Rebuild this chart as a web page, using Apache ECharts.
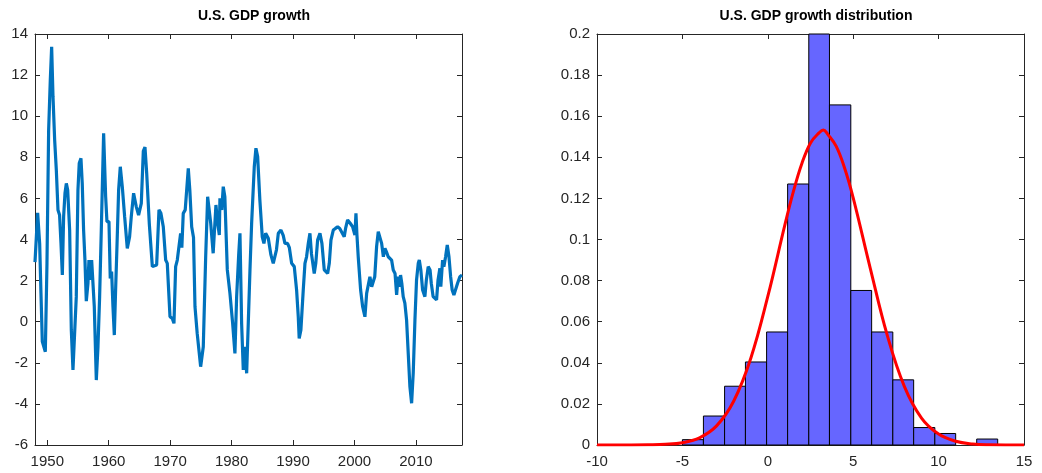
<!DOCTYPE html>
<html>
<head>
<meta charset="utf-8">
<script src="https://cdn.jsdelivr.net/npm/echarts@6/dist/echarts.min.js"></script>
<style>
  html, body { margin: 0; padding: 0; background: #fff; }
  #main { width: 1042px; height: 473px; }
</style>
</head>
<body>
<div id="main"></div>
<script>
// GDP growth series (year, % yoy)
let years = [
  1948.0, 1948.43, 1948.76, 1948.97, 1949.19, 1949.46, 1949.68, 1949.95,
  1950.22, 1950.49, 1950.71, 1950.93, 1951.2, 1951.47, 1951.74, 1952.0,
  1952.23, 1952.45, 1952.66, 1952.88, 1953.1, 1953.32, 1953.64, 1953.91,
  1954.18, 1954.45, 1954.72, 1954.99, 1955.2, 1955.48, 1955.69, 1955.91,
  1956.13, 1956.35, 1956.62, 1956.78, 1957.0, 1957.22, 1957.43, 1957.65,
  1957.98, 1958.25, 1958.52, 1958.79, 1959.17, 1959.5, 1959.71, 1960.04,
  1960.25, 1960.47, 1960.69, 1960.91, 1961.12, 1961.34, 1961.61, 1961.88,
  1962.21, 1962.59, 1963.02, 1963.4, 1963.67, 1964.05, 1964.48, 1964.86,
  1965.3, 1965.63, 1965.9, 1966.18, 1966.6, 1967.1, 1967.37, 1967.8,
  1968.18, 1968.5, 1968.88, 1969.27, 1969.53, 1969.97, 1970.34, 1970.62,
  1970.89, 1971.16, 1971.48, 1971.7, 1971.9, 1972.13, 1972.45, 1972.95,
  1973.2, 1973.5, 1973.8, 1974.04, 1974.4, 1974.96, 1975.1, 1975.39,
  1975.78, 1976.1, 1976.3, 1976.6, 1977.0, 1977.45, 1977.7, 1978.0,
  1978.1, 1978.4, 1978.64, 1978.9, 1979.3, 1979.73, 1980.17, 1980.54,
  1980.82, 1981.15, 1981.36, 1981.63, 1981.9, 1982.17, 1982.45, 1982.72,
  1982.99, 1983.26, 1983.69, 1983.96, 1984.24, 1984.6, 1984.99, 1985.26,
  1985.54, 1985.97, 1986.4, 1986.78, 1987.1, 1987.3, 1987.6, 1988.03,
  1988.4, 1988.68, 1988.9, 1989.1, 1989.4, 1989.77, 1990.2, 1990.58,
  1990.85, 1991.0, 1991.28, 1991.66, 1991.94, 1992.2, 1992.48, 1992.75,
  1993.0, 1993.45, 1993.7, 1994.0, 1994.38, 1994.7, 1995.08, 1995.35,
  1995.63, 1995.9, 1996.17, 1996.55, 1996.9, 1997.26, 1997.6, 1997.9,
  1998.33, 1998.55, 1998.88, 1999.3, 1999.7, 2000.07, 2000.24, 2000.4,
  2000.61, 2001.0, 2001.33, 2001.7, 2001.98, 2002.25, 2002.51, 2002.8,
  2003.1, 2003.3, 2003.6, 2003.87, 2004.15, 2004.42, 2004.7, 2004.96,
  2005.2, 2005.49, 2005.8, 2006.04, 2006.31, 2006.6, 2006.86, 2007.1,
  2007.3, 2007.5, 2007.7, 2007.93, 2008.2, 2008.48, 2008.75, 2009.02,
  2009.3, 2009.56, 2009.84, 2010.1, 2010.38, 2010.55, 2010.8, 2011.09,
  2011.46, 2011.7, 2012.0, 2012.3, 2012.5, 2012.8, 2013.1, 2013.36,
  2013.6, 2013.9, 2014.05, 2014.34, 2014.55, 2014.83, 2015.1, 2015.38,
  2015.65, 2015.9, 2016.18, 2016.5, 2016.78, 2017.15, 2017.5
];
let growth = [
  2.9, 5.3, 3.8, 1.4, -0.97, -1.05, -1.46, 2.84,
  9.33, 11.76, 13.38, 10.95, 8.84, 7.38, 5.44, 5.19,
  3.81, 2.27, 5.11, 6.25, 6.73, 6.4, 4.46, -0.4,
  -2.35, -2.27, 1.22, 6.4, 7.71, 7.95, 6.73, 4.46,
  3.0, 1.0, 1.87, 3.0, 2.03, 3.0, 3.0, 0.73,
  -2.84, -1.21, 1.22, 4.46, 9.17, 6.08, 4.87, 4.87,
  2.11, 2.44, 0.73, -0.65, 1.54, 3.65, 6.4, 7.54,
  6.56, 5.11, 3.57, 4.14, 5.11, 6.25, 5.6, 5.19,
  5.76, 8.3, 8.5, 7.22, 4.79, 2.68, 2.6, 2.76,
  5.44, 5.27, 4.62, 3.0, 2.84, 0.24, 0.16, -0.08,
  2.68, 3.0, 3.08, 4.3, 3.6, 5.27, 5.44, 7.46,
  6.4, 4.62, 4.1, 0.73, -0.57, -2.19, -2.27, -1.22,
  3.16, 6.08, 6.08, 4.79, 3.33, 5.68, 4.87, 4.22,
  6.0, 5.44, 6.57, 6.08, 2.52, 1.38, -0.08, -1.54,
  1.22, 3.24, 4.3, -0.08, -2.35, -1.22, -2.51, 0.0,
  2.52, 4.79, 7.54, 8.44, 8.03, 5.92, 4.13, 3.81,
  4.3, 4.06, 3.25, 2.84, 2.84, 3.5, 4.3, 4.46,
  4.2, 3.81, 3.9, 3.81, 3.6, 2.84, 2.68, 1.54,
  0.24, -0.81, -0.4, 1.54, 2.84, 3.16, 3.81, 4.3,
  3.3, 2.35, 2.84, 3.97, 4.3, 3.81, 2.52, 2.44,
  2.35, 2.84, 3.97, 4.46, 4.54, 4.62, 4.54, 4.62,
  4.13, 4.54, 4.95, 4.79, 4.62, 4.22, 5.27, 4.22,
  3.16, 1.54, 0.73, 0.24, 1.38, 1.46, 2.19, 1.7,
  1.7, 2.19, 3.65, 4.38, 4.3, 3.81, 3.16, 3.57,
  3.4, 3.16, 3.08, 3.0, 2.52, 2.35, 1.3, 2.19,
  1.7, 2.27, 1.87, 1.22, 0.9, 0.08, -1.54, -3.16,
  -3.97, -2.51, 0.08, 2.03, 2.84, 3.0, 2.52, 1.54,
  1.22, 2.03, 2.68, 2.52, 1.87, 1.22, 1.14, 1.06,
  2.03, 2.6, 1.7, 3.0, 2.68, 3.16, 3.73, 3.16,
  2.19, 1.54, 1.3, 1.3, 1.87, 2.19, 2.27
];
let yearTicks = [1950, 1960, 1970, 1980, 1990, 2000, 2010];

// histogram: bin edges and density heights
let binEdges = [-5.0, -3.77, -2.53, -1.31, -0.07, 1.16, 2.40, 3.61, 4.86, 6.08, 7.32, 8.54, 9.78, 11.0, 12.23, 13.46];
let binDensity = [0.0026, 0.0141, 0.0286, 0.0404, 0.055, 0.127, 0.205, 0.1655, 0.0752, 0.055, 0.0317, 0.0085, 0.0056, 0, 0.0029];

// fitted normal curve
let curveX = [-10, -8, -7, -6, -5, -4, -3, -2, -1, 0, 1, 1.5, 2, 2.5, 3, 3.25, 3.5, 4, 4.5, 5, 6, 7, 8, 9, 10, 11, 12, 13, 15];
let curveY = [0, 0.00001, 0.00008, 0.00032, 0.00114, 0.0035, 0.0093, 0.0213, 0.0421, 0.0723, 0.1071, 0.1234, 0.1371, 0.147, 0.1519, 0.1533, 0.1513, 0.1454, 0.1347, 0.1203, 0.086, 0.0532, 0.0284, 0.0131, 0.0053, 0.0018, 0.0005, 0.00014, 0];

let axisColor = '#262626';
let font = 'Liberation Sans, Arial, Helvetica, sans-serif';

let lineData = years.map(function (y, i) { return [y, growth[i]]; });
let binData = [];
for (let i = 0; i < binDensity.length; i++) {
  if (binDensity[i] > 0) binData.push([binEdges[i], binEdges[i + 1], binDensity[i]]);
}
let curveData = curveX.map(function (x, i) { return [x, curveY[i]]; });

function boxAxis(gridIndex, position, min, max, extra) {
  let ax = {
    type: 'value',
    gridIndex: gridIndex,
    position: position,
    min: min,
    max: max,
    splitLine: { show: false },
    axisLine: { show: true, onZero: false, lineStyle: { color: axisColor, width: 1 } },
    axisTick: { show: true, inside: true, length: 5, lineStyle: { color: axisColor } },
    axisLabel: { show: false }
  };
  return Object.assign(ax, extra || {});
}

let labelStyle = { show: true, color: axisColor, fontSize: 15, fontFamily: font };

let myChart = echarts.init(document.getElementById('main'));

let option = {
  animation: false,
  backgroundColor: '#fff',
  title: [
    { text: 'U.S. GDP growth', left: 249, top: 4, textAlign: 'center',
      textStyle: { fontSize: 14, fontWeight: 'bold', color: '#000', fontFamily: font } },
    { text: 'U.S. GDP growth distribution', left: 811, top: 4, textAlign: 'center',
      textStyle: { fontSize: 14, fontWeight: 'bold', color: '#000', fontFamily: font } }
  ],
  grid: [
    { left: 35, top: 34, width: 427, height: 411 },
    { left: 597, top: 34, width: 427, height: 411 }
  ],
  xAxis: [
    boxAxis(0, 'bottom', 1948, 2017.5, {
      axisTick: { show: true, inside: true, length: 5, customValues: yearTicks, lineStyle: { color: axisColor } },
      axisLabel: Object.assign({
        margin: 9,
        customValues: yearTicks,
        formatter: function (v) { return String(Math.round(v)); }
      }, labelStyle)
    }),
    boxAxis(0, 'top', 1948, 2017.5, {
      axisTick: { show: true, inside: true, length: 5, customValues: yearTicks, lineStyle: { color: axisColor } }
    }),
    boxAxis(1, 'bottom', -10, 15, {
      interval: 5,
      axisLabel: Object.assign({ margin: 9 }, labelStyle)
    }),
    boxAxis(1, 'top', -10, 15, { interval: 5 })
  ],
  yAxis: [
    boxAxis(0, 'left', -6, 14, {
      interval: 2,
      axisLabel: Object.assign({ margin: 7 }, labelStyle)
    }),
    boxAxis(0, 'right', -6, 14, { interval: 2 }),
    boxAxis(1, 'left', 0, 0.2, {
      interval: 0.02,
      axisLabel: Object.assign({ margin: 7, formatter: function (v) { return String(Math.round(v * 100) / 100); } }, labelStyle)
    }),
    boxAxis(1, 'right', 0, 0.2, { interval: 0.02 })
  ],
  series: [
    {
      name: 'GDP growth',
      type: 'line',
      xAxisIndex: 0,
      yAxisIndex: 0,
      data: lineData,
      showSymbol: false,
      lineStyle: { color: '#0072BD', width: 3.2 },
      clip: true
    },
    {
      name: 'histogram',
      type: 'custom',
      xAxisIndex: 2,
      yAxisIndex: 2,
      data: binData,
      encode: { x: [0, 1], y: 2 },
      renderItem: function (params, api) {
        let p0 = api.coord([api.value(0), api.value(2)]);
        let p1 = api.coord([api.value(1), 0]);
        let shape = echarts.graphic.clipRectByRect(
          { x: p0[0], y: p0[1], width: p1[0] - p0[0], height: p1[1] - p0[1] },
          { x: params.coordSys.x, y: params.coordSys.y, width: params.coordSys.width, height: params.coordSys.height }
        );
        return shape && {
          type: 'rect',
          shape: shape,
          style: { fill: '#6666FF', stroke: '#000', lineWidth: 1 }
        };
      },
      z: 2
    },
    {
      name: 'normal fit',
      type: 'line',
      xAxisIndex: 2,
      yAxisIndex: 2,
      data: curveData,
      smooth: 0.4,
      showSymbol: false,
      lineStyle: { color: '#FF0000', width: 3 },
      z: 3
    }
  ]
};

myChart.setOption(option);
</script>
</body>
</html>
